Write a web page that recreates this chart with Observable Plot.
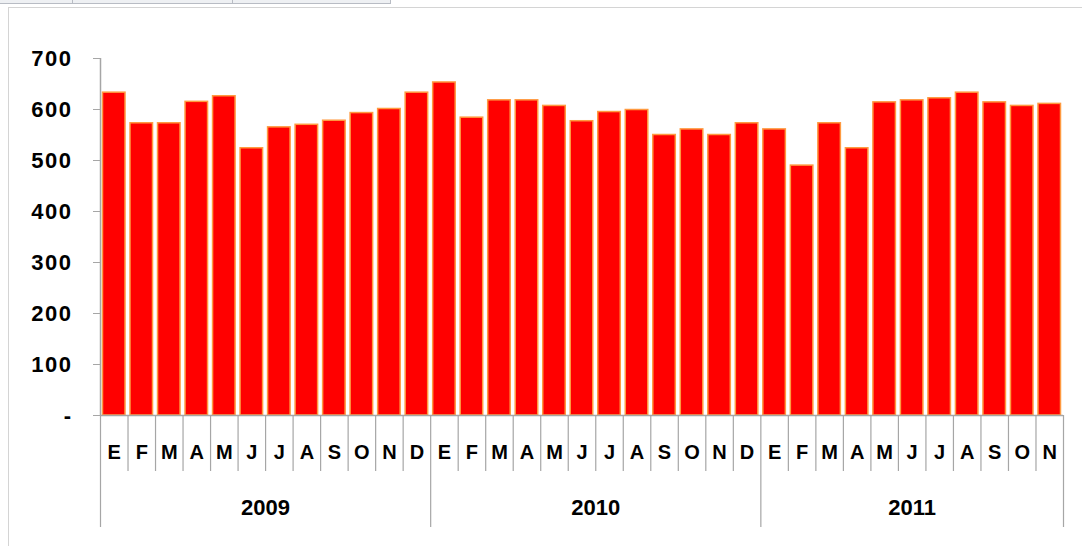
<!DOCTYPE html>
<html>
<head>
<meta charset="utf-8">
<script src="https://cdn.jsdelivr.net/npm/d3@7"></script>
<script src="https://cdn.jsdelivr.net/npm/@observablehq/plot@0.6"></script>
<style>
  html, body { margin: 0; padding: 0; background: #fff; }
  #wrap { position: relative; width: 1082px; height: 546px; overflow: hidden; }
  #topstrip { position: absolute; left: 0; top: 0; width: 390px; height: 3px; background: #eef0f3; border-bottom: 1px solid #b8bcc4; border-right: 1px solid #b8bcc4; }
  #topstrip .sep { position: absolute; top: 0; width: 1px; height: 3px; background: #b8bcc4; }
  #frame { position: absolute; left: 8px; top: 7px; width: 1100px; height: 600px; border: 1px solid #d4d4d4; }
  #chart { position: absolute; left: 0; top: 0; }
  #chart svg text { font-weight: bold; }
  #chart svg g.ylab text { letter-spacing: 1.5px; }
</style>
</head>
<body>
<div id="wrap">
  <div id="topstrip"><div class="sep" style="left:72px"></div><div class="sep" style="left:232px"></div></div>
  <div id="frame"></div>
  <div id="chart"></div>
</div>
<script>
const years = ["2009", "2010", "2011"];
const monthLetters = ["E", "F", "M", "A", "M", "J", "J", "A", "S", "O", "N", "D"];
const values2009 = [633, 573, 573, 615, 626, 524, 565, 570, 578, 593, 601, 633];
const values2010 = [653, 584, 618, 618, 607, 577, 595, 599, 550, 561, 550, 573];
const values2011 = [561, 490, 573, 524, 614, 618, 622, 633, 614, 607, 611];
const yTicks = [0, 100, 200, 300, 400, 500, 600, 700];

const series = [values2009, values2010, values2011];
const rows = [];
const yearSpans = [];
let idx = 0;
series.forEach((vals, yi) => {
  const start = idx;
  vals.forEach((v, mi) => {
    rows.push({idx, year: years[yi], month: monthLetters[mi], value: v});
    idx++;
  });
  yearSpans.push({year: years[yi], start, end: idx});
});
const n = idx;
const yearBounds = [0, ...yearSpans.map(s => s.end)];
const monthBounds = d3.range(0, n + 1).filter(i => !yearBounds.includes(i));

const W = 1082, H = 546, mt = 58, mb = 131, ml = 100, mr = 19;
const frameH = H - mt - mb;
const gray = "#a6a6a6";

const chart = Plot.plot({
  width: W,
  height: H,
  marginTop: mt,
  marginBottom: mb,
  marginLeft: ml,
  marginRight: mr,
  style: {background: "transparent", fontFamily: "'Liberation Sans', Arial, sans-serif", color: "black"},
  x: {type: "linear", domain: [0, n], axis: null},
  y: {domain: [0, 700], axis: null},
  marks: [
    Plot.rectY(rows, {x1: d => d.idx, x2: d => d.idx + 1, y: "value", fill: "#ff0000", stroke: "#ff9a40", strokeWidth: 1.5, insetLeft: 2.5, insetRight: 2.5}),
    Plot.ruleX(monthBounds, {x: d => d, stroke: gray, strokeWidth: 1.2, insetTop: frameH, insetBottom: -56}),
    Plot.ruleX(yearBounds, {x: d => d, stroke: gray, strokeWidth: 1.2, insetTop: frameH, insetBottom: -112}),
    Plot.ruleX([0], {x: d => d, y1: 0, y2: 700, stroke: gray, strokeWidth: 1.5}),
    Plot.ruleY([0], {y: d => d, stroke: gray, strokeWidth: 1.5}),
    Plot.axisY({ticks: yTicks, label: null, tickFormat: d => d === 0 ? "-" : String(d), tickSize: 7, tickPadding: 21, fontSize: 22, stroke: gray, fill: "black", className: "ylab"}),
    Plot.text(rows, {x: d => d.idx + 0.5, text: "month", frameAnchor: "bottom", dy: 43, fontSize: 20, fill: "black"}),
    Plot.text(yearSpans, {x: d => (d.start + d.end) / 2, text: "year", frameAnchor: "bottom", dy: 99, fontSize: 22, fill: "black"})
  ]
});
document.getElementById("chart").appendChild(chart);
</script>
</body>
</html>
